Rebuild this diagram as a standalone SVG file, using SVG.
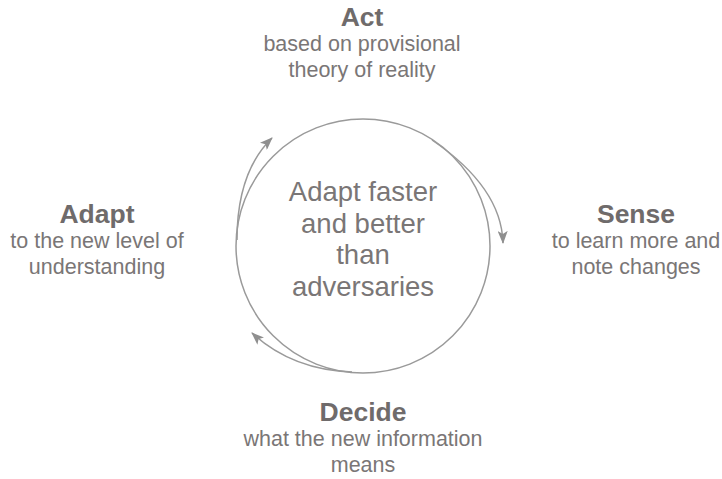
<svg xmlns="http://www.w3.org/2000/svg" width="722" height="479" viewBox="0 0 722 479">
<style>
text{font-family:"Liberation Sans",Arial,sans-serif;text-anchor:middle;fill:#7a7676}
.t{font-weight:bold;font-size:26.5px;fill:#6f6b6b}
.s{font-size:21.5px}
.c{font-size:27.5px}
.ln{fill:none;stroke:#9a9a9a;stroke-width:1.5}
</style>
<defs>
<marker id="ah" markerUnits="userSpaceOnUse" markerWidth="14" markerHeight="10" refX="12" refY="5" orient="auto">
<path d="M0,0 L13,5 L0,10 L3,5 z" fill="#8f8f8f"/>
</marker>
</defs>
<g id="cycle">
<circle class="ln" cx="363" cy="246" r="127"/>
<text class="c" x="363" y="201">Adapt faster</text>
<text class="c" x="363" y="233">and better</text>
<text class="c" x="363" y="264">than</text>
<text class="c" x="363" y="296">adversaries</text>
</g>
<g id="connectors">
<path class="ln" d="M237,240 Q237,172 272,138" marker-end="url(#ah)"/>
<path class="ln" d="M432,140 C476,170 502,205 503,243" marker-end="url(#ah)"/>
<path class="ln" d="M352,372 Q292,370 252,333" marker-end="url(#ah)"/>
</g>
<g id="act">
<text class="t" x="362" y="26">Act</text>
<text class="s" x="362" y="51">based on provisional</text>
<text class="s" x="362" y="77">theory of reality</text>
</g>
<g id="sense">
<text class="t" x="636" y="223">Sense</text>
<text class="s" x="636" y="248">to learn more and</text>
<text class="s" x="636" y="274">note changes</text>
</g>
<g id="decide">
<text class="t" x="363" y="421">Decide</text>
<text class="s" x="363" y="446">what the new information</text>
<text class="s" x="363" y="472">means</text>
</g>
<g id="adapt">
<text class="t" x="97" y="223">Adapt</text>
<text class="s" x="97" y="248">to the new level of</text>
<text class="s" x="97" y="274">understanding</text>
</g>
</svg>
